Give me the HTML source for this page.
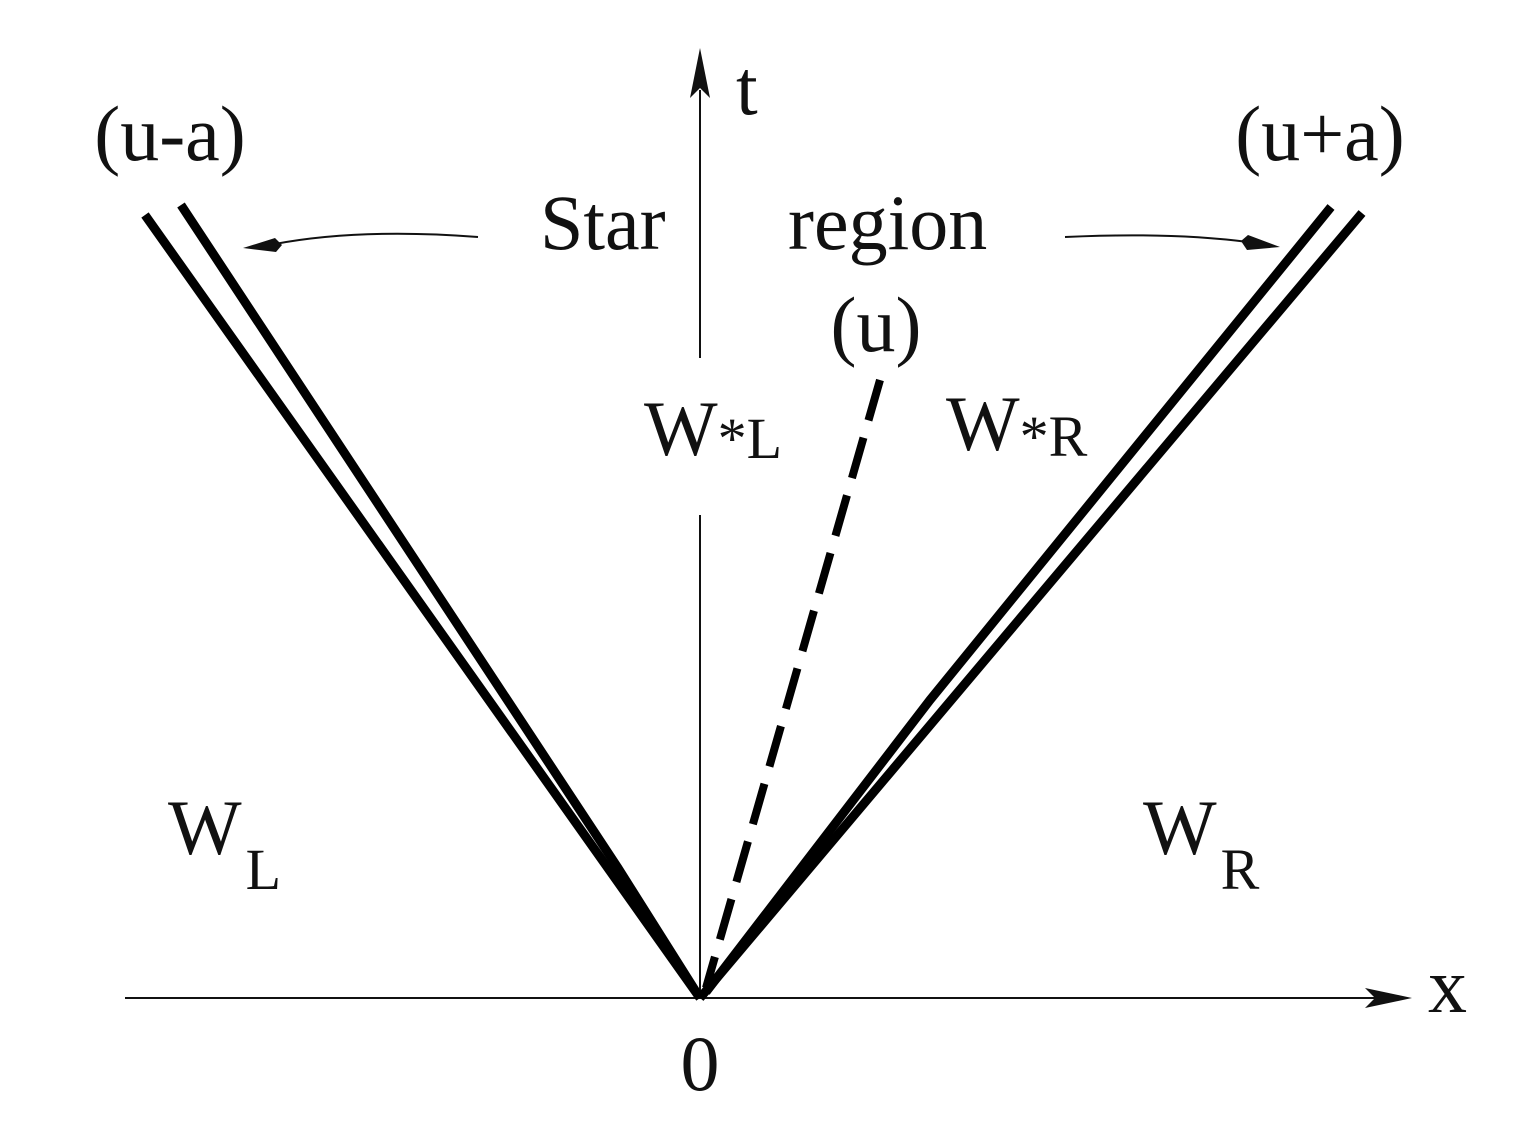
<!DOCTYPE html>
<html><head><meta charset="utf-8"><style>
html,body{margin:0;padding:0;background:#fff;}
svg{display:block;}
text{font-family:"Liberation Serif",serif;fill:#111;}
</style></head><body>
<svg width="1520" height="1135" viewBox="0 0 1520 1135">
<g>
<line x1="125" y1="998" x2="1375" y2="998" stroke="#111" stroke-width="2"/>
<polygon points="1412,998 1365,988 1375,998 1365,1008" fill="#111"/>
</g>
<g>
<line x1="700" y1="998" x2="700" y2="515" stroke="#111" stroke-width="2"/>
<line x1="700" y1="358" x2="700" y2="90" stroke="#111" stroke-width="2"/>
<polygon points="700,48 690,98 700,88 710,98" fill="#111"/>
</g>
<g stroke="#000" stroke-width="9" fill="none" stroke-linejoin="round">
<polyline points="145,215 700,998"/>
<polyline points="181,205 618,868 700,998"/>
</g>
<g stroke="#000" stroke-width="9" fill="none" stroke-linejoin="round">
<polyline points="1331,207 930,700 706,992"/>
<polyline points="1362,213 700,998"/>
</g>
<line x1="880" y1="380" x2="706" y2="988" stroke="#000" stroke-width="8" stroke-dasharray="42,18"/>
<g>
<path d="M478,237 Q360,228 275,244" stroke="#111" stroke-width="2" fill="none"/>
<polygon points="243,248 275,238 282,245 276,252" fill="#111"/>
</g>
<g>
<path d="M1065,237 Q1170,232 1248,242" stroke="#111" stroke-width="2" fill="none"/>
<polygon points="1280,247 1248,235 1241,241 1247,250" fill="#111"/>
</g>
<text x="170" y="160" font-size="78" text-anchor="middle">(u-a)</text>
<text x="1320" y="160" font-size="78" text-anchor="middle">(u+a)</text>
<text x="736" y="114" font-size="78">t</text>
<text x="540" y="249" font-size="78">Star</text>
<text x="788" y="249" font-size="78">region</text>
<text x="876" y="351" font-size="78" text-anchor="middle">(u)</text>
<text x="644" y="455" font-size="78">W<tspan font-size="58" dy="3">*L</tspan></text>
<text x="946" y="450" font-size="78">W<tspan font-size="58" dy="6">*R</tspan></text>
<text x="168" y="854" font-size="78">W<tspan font-size="58" dy="35" dx="4">L</tspan></text>
<text x="1143" y="854" font-size="78">W<tspan font-size="58" dy="35" dx="4">R</tspan></text>
<text x="700" y="1090" font-size="78" text-anchor="middle">0</text>
<text x="1428" y="1012" font-size="78">x</text>
</svg>
</body></html>
